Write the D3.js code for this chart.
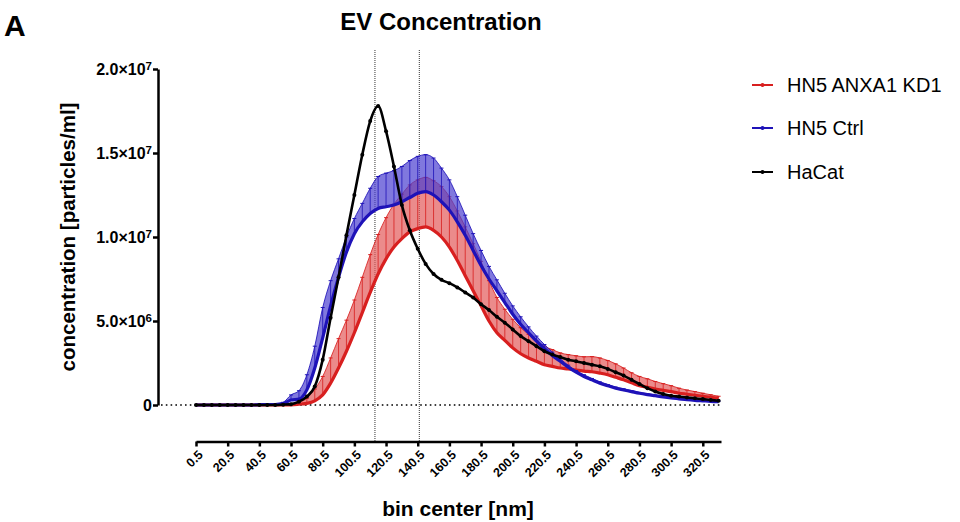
<!DOCTYPE html>
<html>
<head>
<meta charset="utf-8">
<script src="https://cdn.jsdelivr.net/npm/d3@7"></script>
<style>
  body { margin: 0; background: #fff; }
  svg { font-family: "Liberation Sans", Arial, sans-serif; }
</style>
</head>
<body>
<svg width="960" height="522"></svg>
<script>
// bin centers (nm)
const bins = [0.5, 5.5, 10.5, 15.5, 20.5, 25.5, 30.5, 35.5, 40.5, 45.5, 50.5, 55.5, 60.5, 65.5, 70.5, 75.5,
  80.5, 85.5, 90.5, 95.5, 100.5, 105.5, 110.5, 115.5, 120.5, 125.5, 130.5, 135.5, 140.5, 145.5, 150.5,
  155.5, 160.5, 165.5, 170.5, 175.5, 180.5, 185.5, 190.5, 195.5, 200.5, 205.5, 210.5, 215.5, 220.5,
  225.5, 230.5, 235.5, 240.5, 245.5, 250.5, 255.5, 260.5, 265.5, 270.5, 275.5, 280.5, 285.5, 290.5,
  295.5, 300.5, 305.5, 310.5, 315.5, 320.5, 325.5, 330.5];

// concentrations, in 10^6 particles/ml
const hacat = [0, 0, 0, 0, 0, 0, 0, 0, 0, 0, 0, 0.02, 0.05, 0.2, 0.5, 1.1,
  2.7, 5.2, 7.6, 10.1, 12.5, 14.9, 16.9, 17.8, 16.3, 14.2, 11.9, 10.4, 9.3, 8.4, 7.8,
  7.45, 7.25, 7.0, 6.7, 6.4, 6.0, 5.65, 5.25, 4.9, 4.5, 4.1, 3.8, 3.5, 3.2,
  3.0, 2.85, 2.7, 2.6, 2.5, 2.4, 2.3, 2.15, 1.95, 1.75, 1.5, 1.25, 1.0, 0.8,
  0.65, 0.55, 0.5, 0.45, 0.4, 0.35, 0.3, 0.25];

const ctrlMean = [0, 0, 0, 0, 0, 0, 0, 0, 0.02, 0.03, 0.03, 0.08, 0.3, 0.35, 0.9, 2.2,
  4.0, 5.9, 7.6, 9.1, 10.2, 10.9, 11.4, 11.7, 11.8, 11.9, 12.1, 12.35, 12.6, 12.7, 12.5,
  12.1, 11.6, 10.9, 10.1, 9.2, 8.3, 7.5, 6.8, 6.1, 5.4, 4.8, 4.3, 3.8, 3.35,
  2.95, 2.6, 2.25, 1.95, 1.7, 1.5, 1.3, 1.15, 1.0, 0.9, 0.8, 0.7, 0.62, 0.55,
  0.48, 0.42, 0.37, 0.32, 0.28, 0.25, 0.22, 0.2];
const ctrlSd = [0, 0, 0, 0, 0, 0, 0, 0, 0.02, 0.03, 0.03, 0.08, 0.3, 0.5, 0.9, 1.3,
  1.8, 1.5, 1.1, 0.9, 0.9, 1.1, 1.5, 1.9, 2.0, 2.05, 2.1, 2.2, 2.2, 2.2, 2.2,
  2.0, 1.8, 1.5, 1.2, 1.0, 0.9, 0.75, 0.65, 0.55, 0.5, 0.45, 0.35, 0.3, 0.25,
  0.2, 0.15, 0.12, 0.1, 0.1, 0.08, 0.08, 0.07, 0.07, 0.06, 0.06, 0.05, 0.05, 0.05,
  0.04, 0.04, 0.04, 0.03, 0.03, 0.03, 0.03, 0.03];

const kdMean = [0, 0, 0, 0, 0, 0, 0, 0, 0, 0, 0, 0, 0.01, 0.05, 0.1, 0.25,
  0.6, 1.3, 2.2, 3.2, 4.3, 5.5, 6.7, 7.8, 8.7, 9.4, 9.9, 10.3, 10.5, 10.6, 10.4,
  10.0, 9.4, 8.6, 7.7, 6.8, 5.9, 5.0, 4.3, 3.85, 3.4, 3.05, 2.8, 2.6, 2.4,
  2.3, 2.2, 2.15, 2.08, 2.02, 1.98, 1.9, 1.8, 1.65, 1.5, 1.32, 1.15, 1.06, 0.95,
  0.87, 0.8, 0.7, 0.64, 0.58, 0.52, 0.46, 0.4];
const kdSd = [0, 0, 0, 0, 0, 0, 0, 0, 0, 0, 0, 0, 0, 0.1, 0.3, 0.7,
  1.1, 1.5, 1.75, 1.85, 1.95, 2.1, 2.25, 2.35, 2.45, 2.55, 2.65, 2.8, 2.9, 2.95, 2.95,
  3.0, 3.0, 2.95, 2.9, 2.8, 2.65, 2.4, 2.1, 1.85, 1.7, 1.55, 1.4, 1.25, 1.1,
  1.0, 0.9, 0.85, 0.85, 0.85, 0.9, 0.9, 0.85, 0.8, 0.7, 0.6, 0.55, 0.5, 0.45,
  0.4, 0.35, 0.3, 0.25, 0.22, 0.18, 0.15, 0.12];

const xTicks = [0.5, 20.5, 40.5, 60.5, 80.5, 100.5, 120.5, 140.5, 160.5, 180.5, 200.5,
  220.5, 240.5, 260.5, 280.5, 300.5, 320.5];
const yTicks = [0, 5e6, 1e7, 1.5e7, 2e7];
const modeLines = [113.5, 141.5];
const legendNames = ["HN5 ANXA1 KD1", "HN5 Ctrl", "HaCat"];
const UNIT = 1e6;

var svg = d3.select("svg");
const x = d3.scaleLinear().domain([0.5, 332]).range([196, 721]);
const y = d3.scaleLinear().domain([0, 2e7]).range([405, 69]);
const colors = { kd: "#d81f1f", ctrl: "#1e12b8", hacat: "#000" };

// panel letter + title
svg.append("text").attr("x", 4).attr("y", 36).attr("font-size", 30).attr("font-weight", "bold").text("A");
svg.append("text").attr("x", 441).attr("y", 30).attr("text-anchor", "middle")
  .attr("font-size", 24).attr("font-weight", "bold").text("EV Concentration");

// y axis
const yAxis = svg.append("g").attr("transform", "translate(158,0)")
  .call(d3.axisLeft(y).tickValues(yTicks).tickSize(5).tickSizeOuter(0).tickFormat(""));
yAxis.select(".domain").attr("stroke-width", 2.5);
yAxis.selectAll(".tick line").attr("stroke-width", 2.5);
yAxis.selectAll(".tick").each(function (d) {
  var t = d3.select(this).append("text").attr("x", -6).attr("dy", "0.35em")
    .attr("text-anchor", "end").attr("fill", "#000").attr("font-size", 16).attr("font-weight", "bold")
    .attr("font-family", "Liberation Sans, Arial, sans-serif");
  if (d === 0) { t.text("0"); return; }
  var e = Math.floor(Math.log10(d));
  t.append("tspan").text((d / Math.pow(10, e)).toFixed(1) + "\u00d710");
  t.append("tspan").attr("dy", "-0.45em").attr("font-size", 11.5).text(e);
});

// x axis
const xAxis = svg.append("g").attr("transform", "translate(0,441.5)")
  .call(d3.axisBottom(x).tickValues(xTicks).tickSize(5).tickSizeOuter(0).tickFormat(""));
xAxis.select(".domain").attr("stroke-width", 2.5);
xAxis.selectAll(".tick line").attr("stroke-width", 2.5);
xAxis.selectAll(".tick").append("text")
  .attr("transform", "translate(4,11) rotate(-45)")
  .attr("dy", "0.35em").attr("text-anchor", "end").attr("fill", "#000")
  .attr("font-size", 12.5).attr("font-weight", "bold")
  .attr("font-family", "Liberation Sans, Arial, sans-serif")
  .text((d) => d);

// axis titles
svg.append("text").attr("transform", "translate(75,237) rotate(-90)").attr("text-anchor", "middle")
  .attr("font-size", 20.5).attr("font-weight", "bold").text("concentration [particles/ml]");
svg.append("text").attr("x", 458).attr("y", 516).attr("text-anchor", "middle")
  .attr("font-size", 21).attr("font-weight", "bold").text("bin center [nm]");

// zero line and mode markers
svg.append("line").attr("x1", 161).attr("x2", 721).attr("y1", y(0)).attr("y2", y(0))
  .attr("stroke", "#000").attr("stroke-width", 1.6).attr("stroke-dasharray", "1.6,3.2");
svg.selectAll(".mode").data(modeLines).join("line").attr("class", "mode")
  .attr("x1", (d) => x(d)).attr("x2", (d) => x(d)).attr("y1", 50).attr("y2", 441)
  .attr("stroke", "#333").attr("stroke-width", 1).attr("stroke-dasharray", "1,1");

function drawSeries(mean, sd, color, bandColor) {
  var pts = bins.map((b, i) => ({ b: b, m: mean[i] * UNIT, s: sd[i] * UNIT }));
  var g = svg.append("g");
  g.append("path").datum(pts)
    .attr("d", d3.area().x((d) => x(d.b)).y0((d) => y(d.m)).y1((d) => y(d.m + d.s)).curve(d3.curveMonotoneX))
    .attr("fill", bandColor).attr("opacity", 0.7);
  var bars = pts.filter((d) => d.s > 0);
  g.selectAll(".eb").data(bars).join("line").attr("class", "eb")
    .attr("x1", (d) => x(d.b)).attr("x2", (d) => x(d.b))
    .attr("y1", (d) => y(d.m)).attr("y2", (d) => y(d.m + d.s))
    .attr("stroke", color).attr("stroke-width", 1).attr("opacity", 0.8);
  g.selectAll(".cap").data(bars).join("line").attr("class", "cap")
    .attr("x1", (d) => x(d.b) - 2).attr("x2", (d) => x(d.b) + 2)
    .attr("y1", (d) => y(d.m + d.s)).attr("y2", (d) => y(d.m + d.s))
    .attr("stroke", color).attr("stroke-width", 1);
  g.append("path").datum(pts)
    .attr("d", d3.line().x((d) => x(d.b)).y((d) => y(d.m + d.s)).curve(d3.curveMonotoneX))
    .attr("fill", "none").attr("stroke", color).attr("stroke-width", 1).attr("opacity", 0.85);
  g.append("path").datum(pts)
    .attr("d", d3.line().x((d) => x(d.b)).y((d) => y(d.m)).curve(d3.curveMonotoneX))
    .attr("fill", "none").attr("stroke", color).attr("stroke-width", 3.2);
}

drawSeries(kdMean, kdSd, colors.kd, "#e25a5a");
drawSeries(ctrlMean, ctrlSd, colors.ctrl, "#4a3fd0");

// HaCat (no error)
const hacatPts = bins.map((b, i) => ({ b: b, m: hacat[i] * UNIT }));
svg.append("path").datum(hacatPts)
  .attr("d", d3.line().x((d) => x(d.b)).y((d) => y(d.m)).curve(d3.curveMonotoneX))
  .attr("fill", "none").attr("stroke", colors.hacat).attr("stroke-width", 2.6);
svg.selectAll(".hdot").data(hacatPts).join("circle").attr("class", "hdot")
  .attr("cx", (d) => x(d.b)).attr("cy", (d) => y(d.m)).attr("r", 2).attr("fill", "#000");

// legend
const legendColors = [colors.kd, colors.ctrl, colors.hacat];
const leg = svg.selectAll(".leg").data(legendNames).join("g").attr("class", "leg")
  .attr("transform", (d, i) => "translate(752," + [85, 128, 172][i] + ")");
leg.append("line").attr("x1", 0).attr("x2", 21).attr("stroke", (d, i) => legendColors[i]).attr("stroke-width", 2);
leg.append("circle").attr("cx", 10.5).attr("r", 2).attr("fill", (d, i) => legendColors[i]);
leg.append("text").attr("x", 35).attr("y", 7).attr("font-size", 20).text((d) => d);
</script>
</body>
</html>
